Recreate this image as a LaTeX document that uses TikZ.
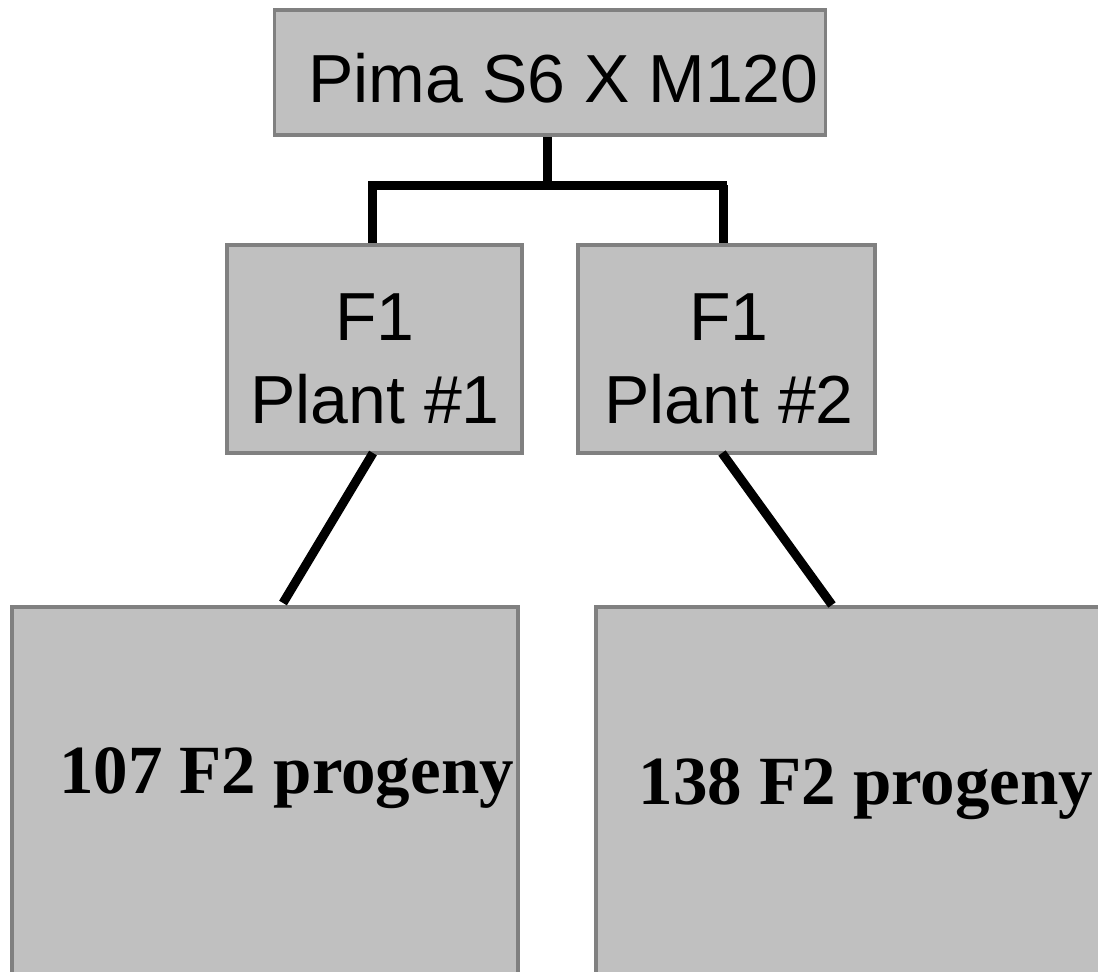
\documentclass[tikz,border=0pt]{standalone}
\usepackage{fontspec}
\setmainfont{Liberation Sans}
\newfontfamily\timesfont{Liberation Serif}
\definecolor{boxfill}{HTML}{C0C0C0}
\definecolor{boxline}{HTML}{808080}
\begin{document}
\begin{tikzpicture}[x=1pt,y=-1pt,
  gbox/.style={draw=boxline,fill=boxfill,line width=3.5pt,rectangle,inner sep=0pt},
  link/.style={draw=black,line width=9pt},
  sanstext/.style={inner sep=0pt,anchor=base,font=\fontsize{68}{83}\selectfont,align=center},
  serftext/.style={inner sep=0pt,anchor=base,font=\timesfont\bfseries\fontsize{69}{80}\selectfont}]
\useasboundingbox (0,0) rectangle (1098,972);
% boxes
\node[gbox,minimum width=551pt,minimum height=125pt] (top) at (550,72.5) {};
\node[gbox,minimum width=295pt,minimum height=208pt] (f1a) at (374.5,349) {};
\node[gbox,minimum width=297pt,minimum height=208pt] (f1b) at (726.5,349) {};
\node[gbox,minimum width=506pt,minimum height=400pt] (f2a) at (265,807) {};
\node[gbox,minimum width=520pt,minimum height=400pt] (f2b) at (856,807) {};
% texts
\node[sanstext] (ttop) at (563.5,102) {Pima S6 X M120};
\node[sanstext] (tf1a) at (375,423) {F1\\Plant \#1};
\node[sanstext] (tf1b) at (729,423) {F1\\Plant \#2};
\node[serftext] (tf2a) at (286.5,793) {107 F2 progeny};
\node[serftext] (tf2b) at (866,804) {138 F2 progeny};
% connectors
\coordinate (bar) at (547,185);
\draw[link] (top.south -| bar) -- (bar);
\draw[link] (368,185) -- (727,185);
\coordinate (da) at (372,185);
\coordinate (db) at (723,185);
\draw[link] (da) -- (da |- f1a.north);
\draw[link] (db) -- (db |- f1b.north);
\coordinate (la) at (373,453);
\coordinate (lb) at (283,603);
\coordinate (ra) at (722,453);
\coordinate (rb) at (832,605);
\draw[link] (la) -- (lb);
\draw[link] (ra) -- (rb);
\end{tikzpicture}
\end{document}
